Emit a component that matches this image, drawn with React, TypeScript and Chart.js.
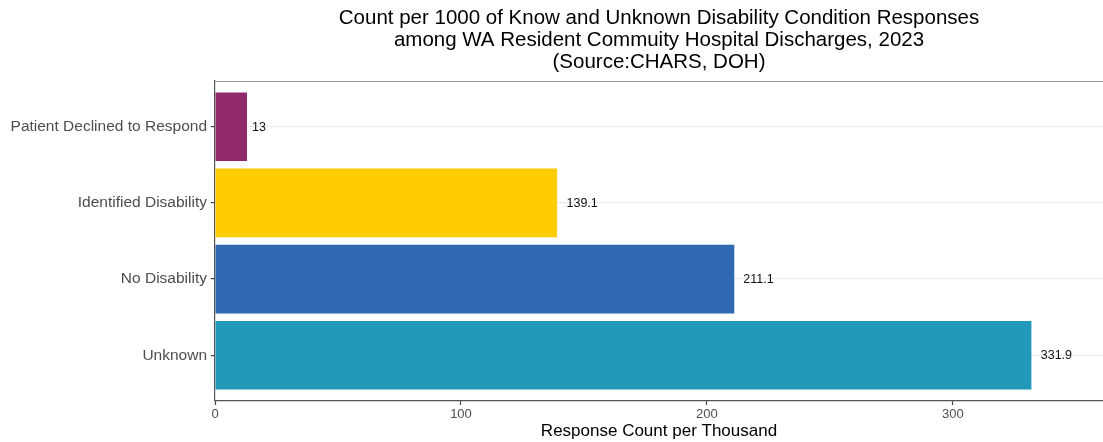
import React, { useEffect, useRef } from "react";
import { Chart, registerables } from "chart.js";

Chart.register(...registerables);

const categories = ["Unknown", "No Disability", "Identified Disability", "Patient Declined to Respond"];
const values = [331.9, 211.1, 139.1, 13];
const valueLabels = ["331.9", "211.1", "139.1", "13"];
const barColors = ["#2399BA", "#2E69B1", "#FFCC00", "#912A6B"];
const xTicks = [0, 100, 200, 300];
const titleLines = [
  "Count per 1000 of Know and Unknown Disability Condition Responses",
  "among WA Resident Commuity Hospital Discharges, 2023",
  "(Source:CHARS, DOH)",
];
const xTitle = "Response Count per Thousand";

const FONT = "'Liberation Sans', Arial, sans-serif";

export default function App() {
  const ref = useRef<HTMLCanvasElement | null>(null);

  useEffect(() => {
    const canvas = ref.current;
    if (!canvas) return;

    const overlay = {
      id: "overlay",
      afterDraw(chart: any) {
        const ctx = chart.ctx;
        const area = chart.chartArea;
        ctx.save();
        // top panel border
        ctx.strokeStyle = "#9a9a9a";
        ctx.lineWidth = 1.2;
        ctx.beginPath();
        ctx.moveTo(area.left, area.top + 0.5);
        ctx.lineTo(area.right, area.top + 0.5);
        ctx.stroke();

        // title
        const cx = (area.left + area.right) / 2;
        ctx.fillStyle = "#000";
        ctx.font = `20.5px ${FONT}`;
        ctx.textAlign = "center";
        ctx.textBaseline = "middle";
        titleLines.forEach((t, i) => ctx.fillText(t, cx, 18 + i * 22));

        // value labels (hjust -0.25 style)
        const meta = chart.getDatasetMeta(0);
        ctx.font = `12.5px ${FONT}`;
        ctx.textAlign = "left";
        ctx.fillStyle = "#111";
        meta.data.forEach((bar: any, i: number) => {
          const txt = valueLabels[i];
          const w = ctx.measureText(txt).width;
          ctx.fillText(txt, bar.x + 0.25 * w + 1.5, bar.y + 0.5);
        });
        ctx.restore();
      },
    };

    const chart = new Chart(canvas, {
      type: "bar",
      data: {
        datasets: [
          {
            data: values.map((v, i) => ({ x: v, y: i + 1 })),
            backgroundColor: barColors,
            borderWidth: 0,
            barPercentage: 0.9,
            categoryPercentage: 1,
          },
        ],
      },
      options: {
        indexAxis: "y",
        animation: false,
        responsive: false,
        maintainAspectRatio: false,
        layout: { padding: { top: 81, left: 0, right: 0, bottom: 0 } },
        plugins: {
          legend: { display: false },
          tooltip: { enabled: false },
          title: { display: false },
        },
        scales: {
          x: {
            type: "linear",
            min: 0,
            max: 361,
            offset: false,
            afterBuildTicks: (scale: any) => {
              scale.ticks = xTicks.map((v) => ({ value: v }));
            },
            afterFit: (scale: any) => {
              scale.height = 41;
            },
            grid: {
              drawOnChartArea: false,
              drawTicks: true,
              tickLength: 4,
              tickColor: "#444",
              tickWidth: 1.2,
            },
            border: { display: true, color: "#555", width: 1.2 },
            ticks: {
              color: "#4d4d4d",
              font: { family: FONT, size: 13 },
              padding: 2,
              maxRotation: 0,
            },
            title: {
              display: true,
              text: xTitle,
              color: "#000",
              font: { family: FONT, size: 17 },
              padding: { top: 0, bottom: 0 },
            },
          },
          y: {
            type: "linear",
            min: 0.4,
            max: 4.6,
            offset: false,
            afterBuildTicks: (scale: any) => {
              scale.ticks = categories.map((_, i) => ({ value: i + 1 }));
            },
            afterFit: (scale: any) => {
              scale.width = 215;
            },
            grid: {
              drawOnChartArea: true,
              offset: false,
              color: "#ebebeb",
              lineWidth: 1.2,
              drawTicks: true,
              tickLength: 4,
              tickColor: "#444",
              tickWidth: 1.2,
            },
            border: { display: true, color: "#555", width: 1.2 },
            ticks: {
              color: "#4d4d4d",
              font: { family: FONT, size: 15.5 },
              padding: 4,
              callback: (v: any) => categories[Math.round(Number(v)) - 1] ?? "",
            },
          },
        },
      },
      plugins: [overlay],
    } as any);

    return () => chart.destroy();
  }, []);

  return (
    <div style={{ position: "fixed", left: 0, top: 0, width: 1103, height: 442, background: "#fff" }}>
      <canvas ref={ref} width={1103} height={442} style={{ display: "block" }} />
    </div>
  );
}
